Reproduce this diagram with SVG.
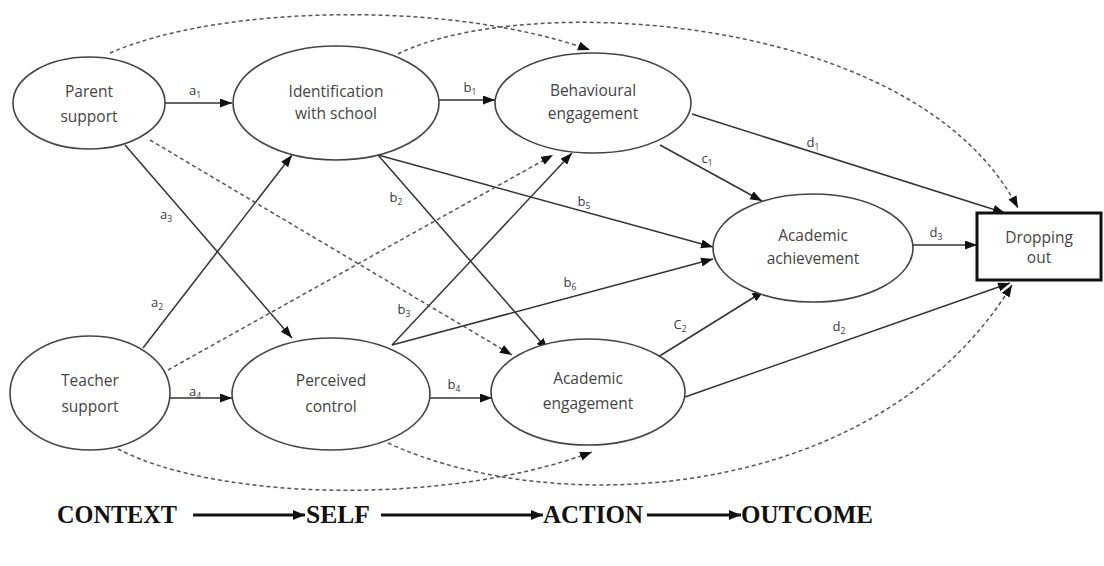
<svg xmlns="http://www.w3.org/2000/svg" width="1104" height="566" viewBox="0 0 1104 566">
  <style>
    .node { fill: #ffffff; stroke: #444444; stroke-width: 1.6; }
    .box { fill: #ffffff; stroke: #111111; stroke-width: 3; }
    .lbl { font-family: "Open Sans", "Liberation Sans", sans-serif; font-size: 15.5px; fill: #444444; text-anchor: middle; }
    .path-lbl { font-family: "Open Sans", "Liberation Sans", sans-serif; font-size: 13px; fill: #3a3a3a; text-anchor: middle; }
    .sub { font-size: 8.5px; }
    .solid { fill: none; stroke: #333333; stroke-width: 1.5; marker-end: url(#arrow); }
    .dash { fill: none; stroke: #555555; stroke-width: 1.5; stroke-dasharray: 4 3; marker-end: url(#arrow); }
    .stage { font-family: "Liberation Serif", "Times New Roman", serif; font-weight: bold; font-size: 25px; fill: #111111; }
    .stage-arrow { fill: none; stroke: #111111; stroke-width: 3; marker-end: url(#bigarrow); }
  </style>
  <defs>
    <marker id="arrow" markerUnits="userSpaceOnUse" markerWidth="13" markerHeight="10" refX="12" refY="4.5" orient="auto">
      <path d="M0,0 L12,4.5 L0,9 z" fill="#111111"/>
    </marker>
    <marker id="bigarrow" markerUnits="userSpaceOnUse" markerWidth="13" markerHeight="12" refX="12" refY="5" orient="auto">
      <path d="M0,0 L12,5 L0,10 z" fill="#111111"/>
    </marker>
  </defs>

  <rect width="1104" height="566" fill="#ffffff"/>

  <!-- connectors -->
  <g id="connectors">
    <!-- context to self -->
    <line class="solid" x1="165" y1="103" x2="232" y2="103"/>
    <line class="solid" x1="170" y1="398" x2="232" y2="398"/>
    <line class="solid" x1="125" y1="145" x2="292" y2="338"/>
    <line class="solid" x1="143" y1="348" x2="292" y2="155"/>
    <!-- self to action / outcome -->
    <line class="solid" x1="438" y1="100" x2="495" y2="100"/>
    <line class="solid" x1="430" y1="398" x2="492" y2="398"/>
    <line class="solid" x1="378" y1="155" x2="548" y2="350"/>
    <line class="solid" x1="378" y1="155" x2="713" y2="247"/>
    <line class="solid" x1="392" y1="345" x2="572" y2="153"/>
    <line class="solid" x1="392" y1="345" x2="713" y2="259"/>
    <!-- action to achievement / dropping out -->
    <line class="solid" x1="660" y1="145" x2="762" y2="201"/>
    <line class="solid" x1="692" y1="114" x2="1005" y2="213"/>
    <line class="solid" x1="658" y1="357" x2="764" y2="291"/>
    <line class="solid" x1="685" y1="397" x2="1010" y2="283"/>
    <line class="solid" x1="913" y1="245" x2="977" y2="245"/>
    <!-- indirect (dashed) paths -->
    <line class="dash" x1="150" y1="140" x2="512" y2="355"/>
    <line class="dash" x1="168" y1="370" x2="553" y2="155"/>
    <path class="dash" d="M110,53 C220,5 450,0 590,50"/>
    <path class="dash" d="M398,54 C520,-8 915,10 1018,208"/>
    <path class="dash" d="M118,449 C220,502 450,505 592,452"/>
    <path class="dash" d="M388,443 C560,522 880,500 1012,285"/>

    <!-- path coefficients -->
    <text class="path-lbl" x="195" y="95">a<tspan class="sub" dy="3">1</tspan></text>
    <text class="path-lbl" x="470" y="92">b<tspan class="sub" dy="3">1</tspan></text>
    <text class="path-lbl" x="166" y="219">a<tspan class="sub" dy="3">3</tspan></text>
    <text class="path-lbl" x="157" y="307">a<tspan class="sub" dy="3">2</tspan></text>
    <text class="path-lbl" x="195" y="396">a<tspan class="sub" dy="3">4</tspan></text>
    <text class="path-lbl" x="454" y="389">b<tspan class="sub" dy="3">4</tspan></text>
    <text class="path-lbl" x="396" y="202">b<tspan class="sub" dy="3">2</tspan></text>
    <text class="path-lbl" x="404" y="314">b<tspan class="sub" dy="3">3</tspan></text>
    <text class="path-lbl" x="584" y="206">b<tspan class="sub" dy="3">5</tspan></text>
    <text class="path-lbl" x="570" y="287">b<tspan class="sub" dy="3">6</tspan></text>
    <text class="path-lbl" x="707" y="163">c<tspan class="sub" dy="3">1</tspan></text>
    <text class="path-lbl" x="813" y="147">d<tspan class="sub" dy="3">1</tspan></text>
    <text class="path-lbl" x="680" y="329">C<tspan class="sub" dy="3">2</tspan></text>
    <text class="path-lbl" x="839" y="331">d<tspan class="sub" dy="3">2</tspan></text>
    <text class="path-lbl" x="936" y="237">d<tspan class="sub" dy="3">3</tspan></text>
  </g>

  <!-- nodes -->
  <g id="parent-support">
    <ellipse class="node" cx="89" cy="103" rx="76" ry="46"/>
    <text class="lbl" x="89" y="97">Parent</text>
    <text class="lbl" x="89" y="122">support</text>
  </g>
  <g id="teacher-support">
    <ellipse class="node" cx="90" cy="393" rx="80" ry="57"/>
    <text class="lbl" x="90" y="386">Teacher</text>
    <text class="lbl" x="90" y="412">support</text>
  </g>
  <g id="identification-with-school">
    <ellipse class="node" cx="336" cy="103" rx="103" ry="57"/>
    <text class="lbl" x="336" y="97">Identification</text>
    <text class="lbl" x="336" y="119">with school</text>
  </g>
  <g id="perceived-control">
    <ellipse class="node" cx="331" cy="394" rx="99" ry="56"/>
    <text class="lbl" x="331" y="386">Perceived</text>
    <text class="lbl" x="331" y="412">control</text>
  </g>
  <g id="behavioural-engagement">
    <ellipse class="node" cx="593" cy="103" rx="98" ry="50"/>
    <text class="lbl" x="593" y="96">Behavioural</text>
    <text class="lbl" x="593" y="119">engagement</text>
  </g>
  <g id="academic-engagement">
    <ellipse class="node" cx="588" cy="392" rx="97" ry="53"/>
    <text class="lbl" x="588" y="384">Academic</text>
    <text class="lbl" x="588" y="409">engagement</text>
  </g>
  <g id="academic-achievement">
    <ellipse class="node" cx="813" cy="248" rx="100" ry="54"/>
    <text class="lbl" x="813" y="241">Academic</text>
    <text class="lbl" x="813" y="264">achievement</text>
  </g>
  <g id="dropping-out">
    <rect class="box" x="977" y="213" width="124" height="67"/>
    <text class="lbl" x="1039" y="243">Dropping</text>
    <text class="lbl" x="1039" y="263">out</text>
  </g>

  <!-- stage sequence -->
  <g id="stages">
    <text class="stage" x="57" y="523" textLength="120" lengthAdjust="spacingAndGlyphs">CONTEXT</text>
    <line class="stage-arrow" x1="193" y1="515" x2="305" y2="515"/>
    <text class="stage" x="306" y="523" textLength="64" lengthAdjust="spacingAndGlyphs">SELF</text>
    <line class="stage-arrow" x1="381" y1="515" x2="543" y2="515"/>
    <text class="stage" x="543" y="523" textLength="100" lengthAdjust="spacingAndGlyphs">ACTION</text>
    <line class="stage-arrow" x1="647" y1="515" x2="741" y2="515"/>
    <text class="stage" x="741" y="523" textLength="132" lengthAdjust="spacingAndGlyphs">OUTCOME</text>
  </g>
</svg>
